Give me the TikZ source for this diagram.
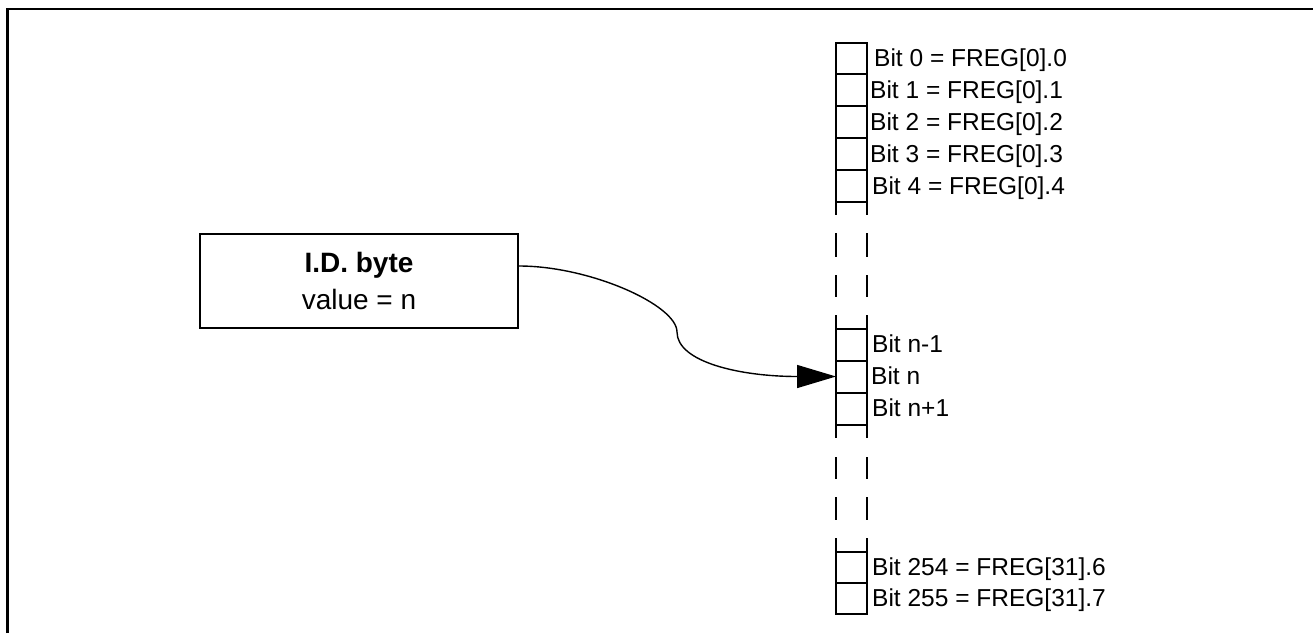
\documentclass[tikz,border=0pt]{standalone}
\usepackage{fontspec}
\setmainfont{Liberation Sans}
\usetikzlibrary{arrows.meta}
\begin{document}
\begin{tikzpicture}[x=1pt,y=-1pt,
  cell/.style={draw,line width=2pt,minimum width=31pt,minimum height=32pt,inner sep=0pt,outer sep=0pt},
  lbl/.style={font=\fontsize{24.5}{29}\selectfont,inner sep=0pt,anchor=base west},
  idbox/.style={draw,line width=2pt,minimum width=318pt,minimum height=94pt,align=center,inner sep=0pt,font=\fontsize{28}{37}\selectfont},
  conn/.style={line width=1.4pt,-{Triangle[length=39pt,width=23pt]}},
  frame/.style={line width=2.6pt},
  ext/.style={line width=2pt}]
\useasboundingbox (0,0) rectangle (1313,633);
% frame
\draw[frame] (7.5,633) -- (7.5,9) -- (1313,9);
% top group
\node[cell,minimum height=31.8pt] (b0) at (851.5,58.4) {};
\node[cell,minimum height=31.8pt] (b1) at (851.5,90.2) {};
\node[cell,minimum height=31.8pt] (b2) at (851.5,122.0) {};
\node[cell,minimum height=31.8pt] (b3) at (851.5,153.8) {};
\node[cell,minimum height=31.8pt] (b4) at (851.5,185.6) {};
% middle group
\node[cell] (bm) at (851.5,344.5) {};
\node[cell] (bn) at (851.5,376.5) {};
\node[cell] (bp) at (851.5,408.5) {};
% bottom group
\node[cell,minimum height=31pt] (b254) at (851.5,567.5) {};
\node[cell,minimum height=31pt] (b255) at (851.5,598.5) {};
% continuation lines and dashes
\foreach \x in {836,867}{
  \draw[ext] (\x,201.5) -- (\x,215);
  \draw[ext] (\x,233) -- (\x,257);
  \draw[ext] (\x,275) -- (\x,297);
  \draw[ext] (\x,315) -- (\x,328.5);
  \draw[ext] (\x,424.5) -- (\x,438);
  \draw[ext] (\x,457) -- (\x,479);
  \draw[ext] (\x,497) -- (\x,520);
  \draw[ext] (\x,538) -- (\x,552);
}
% labels
\node[lbl] (l0) at ([xshift=7pt,yshift=-8.4pt]b0.east) {Bit 0 = FREG[0].0};
\node[lbl] (l1) at ([xshift=3pt,yshift=-8.4pt]b1.east) {Bit 1 = FREG[0].1};
\node[lbl] (l2) at ([xshift=3pt,yshift=-8.4pt]b2.east) {Bit 2 = FREG[0].2};
\node[lbl] (l3) at ([xshift=3pt,yshift=-8.4pt]b3.east) {Bit 3 = FREG[0].3};
\node[lbl] (l4) at ([xshift=5pt,yshift=-8.4pt]b4.east) {Bit 4 = FREG[0].4};
\node[lbl] (lm) at ([xshift=5pt,yshift=-8.4pt]bm.east) {Bit n-1};
\node[lbl] (ln) at ([xshift=4pt,yshift=-8.4pt]bn.east) {Bit n};
\node[lbl] (lp) at ([xshift=5pt,yshift=-8.4pt]bp.east) {Bit n+1};
\node[lbl] (l254) at ([xshift=5pt,yshift=-8.4pt]b254.east) {Bit 254 = FREG[31].6};
\node[lbl] (l255) at ([xshift=5pt,yshift=-8.4pt]b255.east) {Bit 255 = FREG[31].7};
% ID byte box
\node[idbox] (id) at (359,281) {\textbf{I.D. byte}\\value = n};
% connector
\coordinate (s) at ([yshift=15pt]id.east);
\coordinate (m) at (677,332);
\draw[conn] (s) .. controls (590,266) and (677,305) .. (m) .. controls (677,362) and (740,376.5) .. (bn.west);
\end{tikzpicture}
\end{document}
